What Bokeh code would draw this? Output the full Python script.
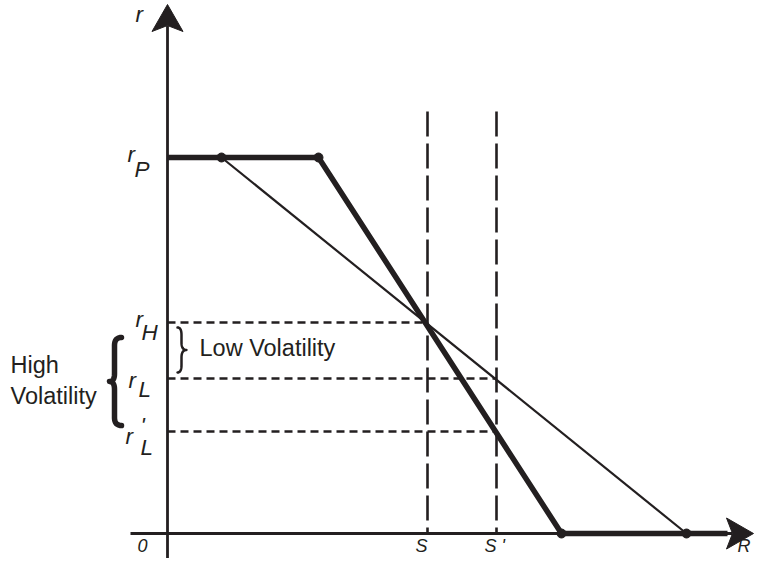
import numpy as np
from bokeh.plotting import figure
from bokeh.models import Range1d
from bokeh.core.properties import value
from bokeh.embed import file_html
from bokeh.resources import INLINE

# ---- data (conceptual diagram units) ----
thick_R = [0, 151, 394, 560]       # high-volatility schedule
thick_r = [376, 376, 0, 0]
thin_R = [54, 519]                  # low-volatility schedule
thin_r = [376, 0]
knot_R = [54, 151, 394, 519]
knot_r = [376, 376, 0, 0]
S_vals = [260, 329]                 # S, S'
S_labels = ["S", "S '"]
r_P = 376
r_H = 211
r_L = 155
r_L2 = 102
axis_top = 529
axis_right = 586

INK = "#231f20"
FONT = value("Liberation Sans")

p = figure(width=755, height=558, output_backend="svg", toolbar_location=None,
           x_range=Range1d(-167, 588), y_range=Range1d(-25, 533),
           min_border=0, outline_line_color=None)
p.axis.visible = False
p.grid.visible = False
p.background_fill_color = "white"

# axes with arrowheads
head_len, head_half, notch = 27, 15.5, 21
p.line([0, 0], [-40, axis_top - notch], line_width=2.8, line_color=INK)
p.line([-37, axis_right - notch], [0, 0], line_width=2.8, line_color=INK)

# dashed guides
for sx in S_vals:
    p.line([sx, sx], [422, 0], line_width=2.6, line_color=INK, line_dash="25 7")
p.line([0, S_vals[0]], [r_H, r_H], line_width=2.6, line_color=INK, line_dash="8 5")
p.line([0, S_vals[1]], [r_L, r_L], line_width=2.6, line_color=INK, line_dash="8 5")
p.line([0, S_vals[1]], [r_L2, r_L2], line_width=2.6, line_color=INK, line_dash="8 5")

# schedules
p.line(thin_R, thin_r, line_width=2.2, line_color=INK)
p.line(thick_R, thick_r, line_width=5.5, line_color=INK, line_join="round")
p.scatter(knot_R, knot_r, size=9, fill_color=INK, line_color=INK)

p.patches(
    xs=[[0, head_half, 0, -head_half],
        [axis_right, axis_right - head_len, axis_right - notch, axis_right - head_len]],
    ys=[[axis_top, axis_top - head_len, axis_top - notch, axis_top - head_len],
        [0, head_half, 0, -head_half]],
    fill_color=INK, line_color=INK, line_width=1)

# braces
def brace(xe, xc, xt, top, bot, lw):
    mid = (top + bot) / 2
    rr = min(8.0, (top - bot) / 6)
    t = np.linspace(0, 1, 12)
    def q(p0, p1, p2):
        return ((1 - t) ** 2 * p0[0] + 2 * (1 - t) * t * p1[0] + t ** 2 * p2[0],
                (1 - t) ** 2 * p0[1] + 2 * (1 - t) * t * p1[1] + t ** 2 * p2[1])
    segs = [q((xe, top), (xc, top), (xc, top - rr)),
            q((xc, mid + rr), (xc, mid), (xt, mid)),
            q((xt, mid), (xc, mid), (xc, mid - rr)),
            q((xc, bot + rr), (xc, bot), (xe, bot))]
    xs = np.concatenate([s[0] for s in segs])
    ys = np.concatenate([s[1] for s in segs])
    p.line(xs, ys, line_width=lw, line_color=INK, line_join="round", line_cap="round")

brace(-46, -53, -58, r_H - 15, r_L2 + 6, 5.5)
brace(10, 14, 19, r_H - 5, r_L + 6, 2.5)

# italic math labels
ital = dict(text_font=FONT, text_font_style="italic", text_font_size="22.5px",
            text_color=INK, text_baseline="alphabetic", text_align="left")
p.text(x=[-32], y=[axis_top - 10], text=["r"], **ital)
p.text(x=[-40, -33], y=[r_P + 3, r_P - 12], text=["r", "P"], **ital)
p.text(x=[-32, -26], y=[r_H + 3, r_H - 10], text=["r", "H"], **ital)
p.text(x=[-39, -29], y=[r_L - 2, r_L - 11], text=["r", "L"], **ital)
p.text(x=[-42, -27, -27], y=[r_L2 - 5, r_L2 - 16, r_L2 + 6], text=["r", "L", "'"], **ital)

ital_small = dict(ital, text_font_size="18px")
p.text(x=[-30, S_vals[0] - 12, S_vals[1] - 12, axis_right - 16], y=[-12, -12, -12, -12],
       text=["0", S_labels[0], S_labels[1], "R"], **ital_small)

plain = dict(text_font=FONT, text_font_size="23.5px", text_color=INK,
             text_baseline="alphabetic", text_align="left")
p.text(x=[32], y=[186], text=["Low Volatility"], **plain)
p.text(x=[-157, -157], y=[169, 138], text=["High", "Volatility"], **plain)

open("out.html", "w").write(file_html(p, INLINE))
